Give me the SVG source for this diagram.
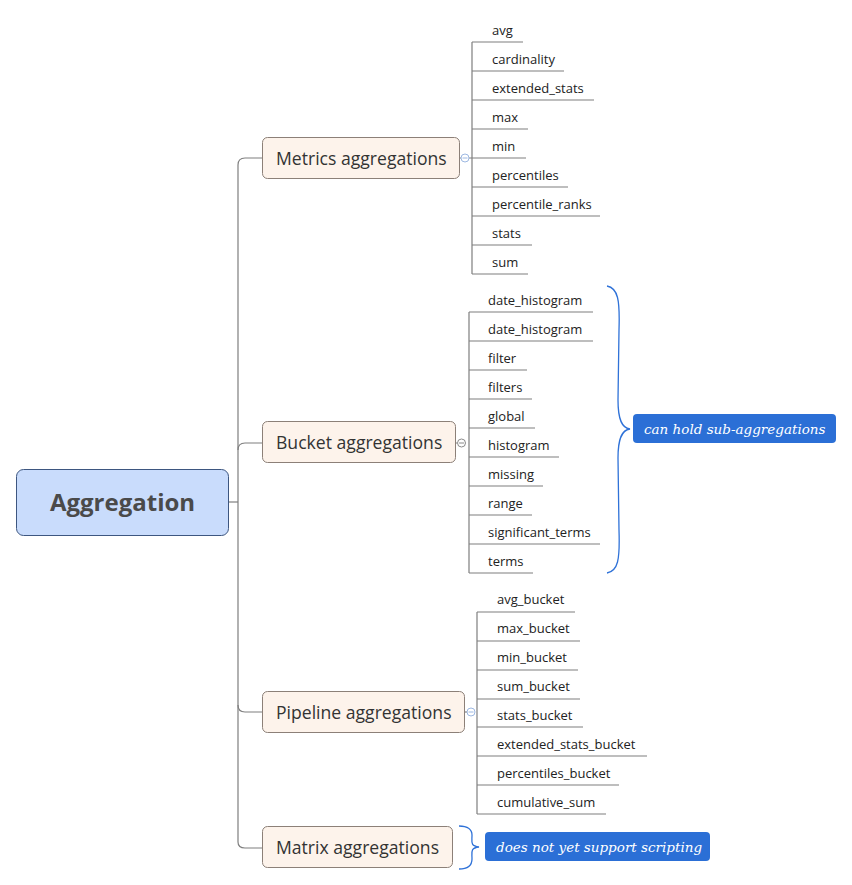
<svg xmlns="http://www.w3.org/2000/svg" width="852" height="885" viewBox="0 0 852 885">
<style>
.conn{fill:none;stroke:#7f7f7f;stroke-width:1.2}
.brace{fill:none;stroke:#2f72d8;stroke-width:1.3}
.main{fill:#fdf3eb;stroke:#8c8078;stroke-width:1}
.mt{font-family:"Open Sans","Noto Sans",sans-serif;font-size:17.6px;fill:#333}
.leaf{font-family:"Open Sans","Noto Sans",sans-serif;font-size:13px;fill:#222}
.note{fill:#2b6fd6}
.nt{font-family:"DejaVu Serif","Liberation Serif",serif;font-style:italic;font-size:13.5px;fill:#fff}
.col{fill:#fff;stroke-width:1}
</style>
<rect width="852" height="885" fill="#fff"/>
<g id="connectors">
<path class="conn" d="M229 502H238"/>
<path class="conn" d="M262 158H245Q238 158 238 165V842Q238 848 245 848H262"/>
<path class="conn" d="M262 443H245Q238 443 238 450"/>
<path class="conn" d="M262 712H245Q238 712 238 705"/>
<path class="conn" d="M459 158H461M469 158H472"/>
<path class="conn" d="M455 443H457"/>
<path class="conn" d="M464 712H467"/>
<path class="conn" d="M472 42V274M472 42H523M472 71H564M472 100H594M472 129H528M472 158H526M472 187H568M472 216H600M472 245H532M472 274H528"/>
<path class="conn" d="M469 312V573M469 312H593M469 341H593M469 370H527M469 399H532M469 428H535M469 457H559M469 486H543M469 515H532M469 544H600M469 573H533"/>
<path class="conn" d="M477 612V814M477 612H575M477 641H580M477 670H578M477 699H580M477 727H583M477 756H647M477 785H619M477 814H606"/>
</g>
<g id="collapse">
<circle class="col" cx="465" cy="158" r="4" stroke="#9db8e2"/><path d="M462.5 158H467.5" stroke="#9db8e2"/>
<circle class="col" cx="461.5" cy="443" r="4" stroke="#8a8a8a"/><path d="M459 443H464" stroke="#8a8a8a"/>
<circle class="col" cx="471" cy="712" r="4" stroke="#9db8e2"/><path d="M468.5 712H473.5" stroke="#9db8e2"/>
</g>
<g id="root">
<rect x="16.5" y="469.5" width="212" height="66" rx="7" fill="#c9dcfc" stroke="#3d5680"/>
<text x="122.5" y="511" text-anchor="middle" font-family="Open Sans,Noto Sans,sans-serif" font-weight="bold" font-size="24" fill="#4a4a4a">Aggregation</text>
</g>
<g id="metrics">
<rect class="main" x="262.5" y="137.5" width="197" height="41" rx="5"/>
<text class="mt" x="276" y="165">Metrics aggregations</text>
</g>
<g id="bucket">
<rect class="main" x="262.5" y="421.5" width="193" height="41" rx="5"/>
<text class="mt" x="276" y="449">Bucket aggregations</text>
</g>
<g id="pipeline">
<rect class="main" x="262.5" y="691.5" width="202" height="41" rx="5"/>
<text class="mt" x="276" y="719">Pipeline aggregations</text>
</g>
<g id="matrix">
<rect class="main" x="262.5" y="826.5" width="190" height="41" rx="5"/>
<text class="mt" x="276" y="854">Matrix aggregations</text>
</g>
<g id="metrics-children">
<text class="leaf" x="492" y="35">avg</text>
<text class="leaf" x="492" y="64">cardinality</text>
<text class="leaf" x="492" y="93">extended_stats</text>
<text class="leaf" x="492" y="122">max</text>
<text class="leaf" x="492" y="151">min</text>
<text class="leaf" x="492" y="180">percentiles</text>
<text class="leaf" x="492" y="209">percentile_ranks</text>
<text class="leaf" x="492" y="238">stats</text>
<text class="leaf" x="492" y="267">sum</text>
</g>
<g id="bucket-children">
<text class="leaf" x="488" y="305">date_histogram</text>
<text class="leaf" x="488" y="334">date_histogram</text>
<text class="leaf" x="488" y="363">filter</text>
<text class="leaf" x="488" y="392">filters</text>
<text class="leaf" x="488" y="421">global</text>
<text class="leaf" x="488" y="450">histogram</text>
<text class="leaf" x="488" y="479">missing</text>
<text class="leaf" x="488" y="508">range</text>
<text class="leaf" x="488" y="537">significant_terms</text>
<text class="leaf" x="488" y="566">terms</text>
</g>
<g id="pipeline-children">
<text class="leaf" x="497" y="604">avg_bucket</text>
<text class="leaf" x="497" y="633">max_bucket</text>
<text class="leaf" x="497" y="662">min_bucket</text>
<text class="leaf" x="497" y="691">sum_bucket</text>
<text class="leaf" x="497" y="720">stats_bucket</text>
<text class="leaf" x="497" y="749">extended_stats_bucket</text>
<text class="leaf" x="497" y="778">percentiles_bucket</text>
<text class="leaf" x="497" y="807">cumulative_sum</text>
</g>
<g id="brace-bucket">
<path class="brace" d="M607 286C618 288 620 300 619 330L618 400C618 420 622 428 630 429C622 430 618 438 618 458L619 530C620 560 618 571 607 573"/>
</g>
<g id="note-bucket">
<rect class="note" x="633" y="414" width="203" height="29" rx="4"/>
<text class="nt" x="644" y="434">can hold sub-aggregations</text>
</g>
<g id="brace-matrix">
<path class="brace" d="M459 826C468 826 472 830 472 835C472 842 470 846 479 847C470 848 472 852 472 859C472 865 468 869 459 869"/>
</g>
<g id="note-matrix">
<rect class="note" x="485" y="832" width="225" height="29" rx="4"/>
<text class="nt" x="496" y="852">does not yet support scripting</text>
</g>
</svg>
